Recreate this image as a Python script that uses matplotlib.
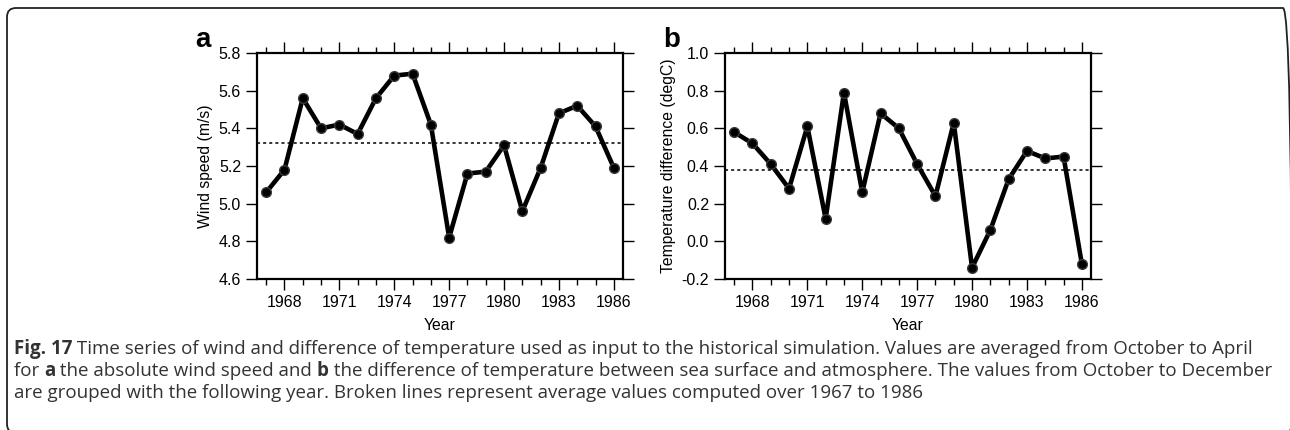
import numpy as np
import matplotlib.pyplot as plt
from matplotlib.patches import FancyBboxPatch
from matplotlib.transforms import IdentityTransform
from matplotlib.ticker import MultipleLocator

plt.rcParams['font.family'] = ['Liberation Sans', 'DejaVu Sans']

years = np.arange(1967, 1987)
wind_speed = [5.06, 5.18, 5.56, 5.40, 5.42, 5.37, 5.56, 5.68, 5.69, 5.42,
              4.82, 5.16, 5.17, 5.31, 4.96, 5.19, 5.48, 5.52, 5.41, 5.19]
temp_diff = [0.58, 0.52, 0.41, 0.28, 0.61, 0.12, 0.79, 0.26, 0.68, 0.60,
             0.41, 0.24, 0.63, -0.14, 0.06, 0.33, 0.48, 0.44, 0.45, -0.12]
wind_mean = 5.32
temp_mean = 0.38

W, H = 1290, 430
fig = plt.figure(figsize=(W / 100, H / 100), dpi=100)

# rounded frame around the whole figure (pixel coordinates, origin bottom-left)
frame = FancyBboxPatch((7, -3), 1292 - 7, H - 8 + 3,
                       boxstyle='round,pad=0,rounding_size=9',
                       transform=IdentityTransform(), fill=False,
                       ec='#222222', lw=1.3, clip_on=False)
fig.patches.append(frame)


def panel(left, values, mean, ylim, ylabel, letter):
    ax = fig.add_axes([left / W, 1 - 279 / H, 366 / W, 226 / H])
    ax.plot(years, values, '-o', color='black', lw=3.3, ms=7.0,
            mfc='black', mec='#3a3a3a', mew=1.0, solid_joinstyle='round')
    ax.axhline(mean, color='black', lw=1.1, ls=(0, (2, 2)))
    ax.set_xlim(1966.5, 1986.5)
    ax.set_ylim(*ylim)
    ax.set_xticks(np.arange(1968, 1987, 3))
    ax.xaxis.set_minor_locator(MultipleLocator(1))
    ax.yaxis.set_major_locator(MultipleLocator(0.2))
    ax.yaxis.set_major_formatter(plt.FormatStrFormatter('%.1f'))
    ax.tick_params(which='both', direction='out', top=True, right=True,
                   labelsize=11.5, width=1.0, color='black')
    ax.tick_params(which='major', length=8, pad=3.5)
    ax.tick_params(which='minor', length=4)
    for s in ax.spines.values():
        s.set_linewidth(1.6)
    ax.set_xlabel('Year', fontsize=11.3, labelpad=6)
    ax.set_ylabel(ylabel, fontsize=11.3, labelpad=4)
    fig.text(left / W - 62 / W, 1 - 47 / H, letter, fontsize=20,
             fontweight='bold', ha='left', va='baseline')
    return ax


panel(257, wind_speed, wind_mean, (4.6, 5.8), 'Wind speed (m/s)', 'a')
panel(725, temp_diff, temp_mean, (-0.2, 1.0),
      'Temperature difference (degC)', 'b')

# caption, written segment by segment so bold pieces sit inline
cap_lines = [
    [('Fig. 17', 'bold'), (' Time series of wind and difference of temperature used as input to the historical simulation. Values are averaged from October to April', 'normal')],
    [('for ', 'normal'), ('a', 'bold'), (' the absolute wind speed and ', 'normal'), ('b', 'bold'),
     (' the difference of temperature between sea surface and atmosphere. The values from October to December', 'normal')],
    [('are grouped with the following year. Broken lines represent average values computed over 1967 to 1986', 'normal')],
]
renderer = fig.canvas.get_renderer()
for i, segs in enumerate(cap_lines):
    x = 14
    y = 1 - (354 + 22 * i) / H
    for txt, weight in segs:
        t = fig.text(x / W, y, txt, fontsize=13.5, fontweight=weight,
                     family=['Open Sans', 'DejaVu Sans'], color='#333333',
                     ha='left', va='baseline')
        x += t.get_window_extent(renderer).width

fig.savefig('out.png', dpi=100)
